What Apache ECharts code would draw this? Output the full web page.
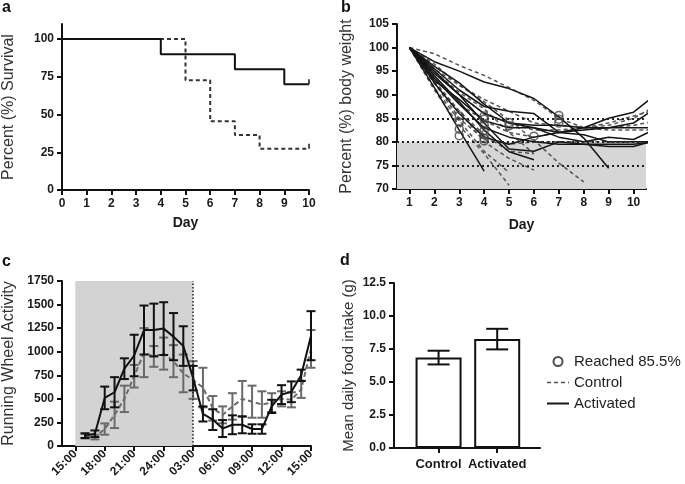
<!DOCTYPE html>
<html><head><meta charset="utf-8">
<script src="https://cdn.jsdelivr.net/npm/echarts@6/dist/echarts.min.js"></script>
<style>html,body{margin:0;padding:0;background:#fff}#c{width:685px;height:484px}</style>
</head><body><div id="c"></div>
<script>
// ---------- Panel a: survival ----------
const survXTicks = [0,1,2,3,4,5,6,7,8,9,10];
const survYTicks = [0,25,50,75,100];
const survActivated = [[0,100],[4,90],[7,80],[9,70],[10,70]];
const survControl = [[0,100],[5,72.7],[6,45.5],[7,36.4],[8,27.3],[10,27.3]];

// ---------- Panel b: body weight ----------
const bwDays = [1,2,3,4,5,6,7,8,9,10,11];
const bwXTicks = [1,2,3,4,5,6,7,8,9,10];
const bwThresholds = [85,80,75];
const bwDangerBand = [70,80];
const bwActivated = [
  [100,91.5,82.5,73.8],
  [100,97,95,92.7,91.3,89.2,85.3,80.8,74.4],
  [100,94,88.5,82.5,77.9,76.2],
  [100,95.5,91,87.5,86.5,86,82,83,85,86.3,90.5],
  [100,94.5,90,86,84,83.5,83.5,83,83,84,87.5],
  [100,93,89,84.5,83,83,81,80,81,80.5,83],
  [100,95,90,84,78.5,78,80,79.5,79.5,79.5,80],
  [100,93.5,88,83,81,80,79.5,79.5,79,79,80.5],
  [100,96,92.5,88,84,83,82,81.5,80,80,80],
  [100,92.5,86,81,79.5,81,82,82.5,83,83,83]
];
const bwControl = [
  [100,98.7,96.2,94.1,91.5,88.8,85,83,83.5,85,88],
  [100,96.5,92,89,86.5,84,83.5,83,82.5,82.5,82.5],
  [100,94,88,84.5,82,81,82,83,84,85.5,87],
  [100,92.5,85,80.5,79.5,80,80,80,80,80,80],
  [100,91,83.5,77.5,70.8],
  [100,92.5,86.5,80,76.5,74],
  [100,95,90.5,87,82,77.5],
  [100,95.5,92,88.5,84.6,80.4,75.5,71.5],
  [100,91.5,84.5,78,73.5],
  [100,95,90,86,84,82.5,82.5,83,83,83.5,84.5],
  [100,93,86.5,81.5,78,77.5]
];
const bwReached = [[3,85.5],[3,84.2],[3,82.7],[3,81.3],[4,85.5],[4,84.8],[4,83.6],[4,82.4],[4,81.5],[4,80.7],[4,80.2],[5,84.1],[5,83.4],[6,81.2],[7,85.6],[7,84.8],[7,84]];

// ---------- Panel c: running wheel ----------
const wheelHours = [16,17,18,19,20,21,22,23,24,25,26,27,28,29,30,31,32,33,34,35,36,37,38,39];
const wheelTickHours = [15,18,21,24,27,30,33,36,39];
const wheelTickLabels = ['15:00','18:00','21:00','24:00','03:00','06:00','09:00','12:00','15:00'];
const wheelDark = [15,27];
const wheelActMean = [110,130,510,570,820,960,1230,1230,1245,1160,1060,720,340,280,185,225,225,180,180,420,545,575,750,1170];
const wheelActErr  = [25,35,120,160,110,220,260,280,280,250,210,130,80,110,90,100,90,50,50,70,100,110,60,260];
const wheelCtlMean = [105,95,180,330,500,740,990,950,980,900,770,700,620,400,330,420,500,470,440,460,500,490,600,1030];
const wheelCtlErr  = [25,25,60,140,140,120,260,110,170,170,200,200,210,130,90,140,190,170,140,100,80,80,90,200];

// ---------- Panel d: food intake ----------
const foodGroups = ['Control','Activated'];
const foodMean = [6.85,8.25];
const foodErr = [0.52,0.78];

const FONT = '"Liberation Sans", Arial, Helvetica, sans-serif';
const AX = '#111';

function baseAxis(extra) {
  return Object.assign({
    axisLine:{show:true,onZero:false,lineStyle:{color:AX,width:2}},
    axisTick:{show:true,length:5,lineStyle:{color:AX,width:2}},
    axisLabel:{color:'#1a1a1a',fontSize:12,fontWeight:'bold',fontFamily:FONT,margin:8},
    splitLine:{show:false},
    nameLocation:'middle',
    nameTextStyle:{color:'#333',fontSize:16,fontFamily:FONT}
  }, extra);
}
function merge(a,b){ for (const k in b) { if (b[k] && typeof b[k]==='object' && !Array.isArray(b[k]) && a[k]) a[k]=Object.assign({},a[k],b[k]); else a[k]=b[k]; } return a; }

function errRenderer(color, width, cap) {
  return function(params, api) {
    const x = api.value(0), lo = api.value(1), hi = api.value(2);
    const a = api.coord([x, hi]), b = api.coord([x, lo]);
    const st = {stroke:color, lineWidth:width};
    return {type:'group', children:[
      {type:'line', shape:{x1:a[0],y1:a[1],x2:b[0],y2:b[1]}, style:st},
      {type:'line', shape:{x1:a[0]-cap,y1:a[1],x2:a[0]+cap,y2:a[1]}, style:st},
      {type:'line', shape:{x1:b[0]-cap,y1:b[1],x2:b[0]+cap,y2:b[1]}, style:st}
    ]};
  };
}

const series = [];
bwControl.forEach((row)=>{
  series.push({type:'line', name:'Control', xAxisIndex:1, yAxisIndex:1, symbol:'none', silent:true, z:3,
    color:'#555', itemStyle:{color:'#555'},
    data: row.map((v,j)=>[bwDays[j],v]), lineStyle:{color:'#555',width:1.5,type:[4,3]}});
});
bwActivated.forEach((row)=>{
  series.push({type:'line', name:'Activated', xAxisIndex:1, yAxisIndex:1, symbol:'none', silent:true, z:4,
    color:'#151515', itemStyle:{color:'#151515'},
    data: row.map((v,j)=>[bwDays[j],v]), lineStyle:{color:'#151515',width:1.5}});
});
series.push({type:'line', name:'bands', xAxisIndex:1, yAxisIndex:1, symbol:'none', data:[], z:1,
  markArea:{silent:true, itemStyle:{color:'#d6d6d6'}, data:[[{yAxis:bwDangerBand[0]},{yAxis:bwDangerBand[1]}]]},
  markLine:{silent:true, symbol:'none', label:{show:false}, lineStyle:{color:'#222',width:2,type:[2,3]},
    data: bwThresholds.map(t=>({yAxis:t}))}
});
series.push({type:'scatter', name:'Reached 85.5%', xAxisIndex:1, yAxisIndex:1, symbol:'circle', symbolSize:8, z:6,
  itemStyle:{color:'rgba(255,255,255,0)', borderColor:'#444', borderWidth:1.6}, data: bwReached});

// Panel a
series.push({type:'line', name:'survC', xAxisIndex:0, yAxisIndex:0, step:'end', symbol:'none', z:3,
  data: survControl, lineStyle:{color:'#333',width:2,type:[4,3]}});
series.push({type:'line', name:'survA', xAxisIndex:0, yAxisIndex:0, step:'end', symbol:'none', z:4,
  data: survActivated, lineStyle:{color:'#111',width:2}});
series.push({type:'scatter', name:'censor', xAxisIndex:0, yAxisIndex:0, symbol:'rect', symbolSize:[2,5], symbolOffset:[0,-2.5], z:5,
  itemStyle:{color:'#222'}, data:[survActivated[survActivated.length-1], survControl[survControl.length-1]]});

// Panel c
series.push({type:'line', name:'wheelBg', xAxisIndex:2, yAxisIndex:2, symbol:'none', data:[], z:1,
  markArea:{silent:true, itemStyle:{color:'#d3d3d3'}, data:[[{xAxis:wheelDark[0], yAxis:0},{xAxis:wheelDark[1], yAxis:1750}]]},
  markLine:{silent:true, symbol:'none', label:{show:false}, lineStyle:{color:'#222',width:1.5,type:[1.5,2]}, data:[{xAxis:wheelDark[1]}]}
});
series.push({type:'custom', name:'ctlErr', xAxisIndex:2, yAxisIndex:2, z:3,
  renderItem: errRenderer('#6a6a6a',2,4.5),
  data: wheelHours.map((h,i)=>[h, wheelCtlMean[i]-wheelCtlErr[i], wheelCtlMean[i]+wheelCtlErr[i]])});
series.push({type:'line', name:'ctlLine', xAxisIndex:2, yAxisIndex:2, symbol:'none', z:3,
  data: wheelHours.map((h,i)=>[h, wheelCtlMean[i]]), lineStyle:{color:'#6a6a6a',width:2,type:[5,3]}});
series.push({type:'custom', name:'actErr', xAxisIndex:2, yAxisIndex:2, z:4,
  renderItem: errRenderer('#111',2,4.5),
  data: wheelHours.map((h,i)=>[h, wheelActMean[i]-wheelActErr[i], wheelActMean[i]+wheelActErr[i]])});
series.push({type:'line', name:'actLine', xAxisIndex:2, yAxisIndex:2, symbol:'none', z:4,
  data: wheelHours.map((h,i)=>[h, wheelActMean[i]]), lineStyle:{color:'#111',width:2}});

// Panel d
series.push({type:'bar', name:'food', xAxisIndex:3, yAxisIndex:3, barWidth:46, z:3,
  itemStyle:{color:'#fff', borderColor:'#111', borderWidth:2},
  data: foodMean.map((m,i)=>[i,m])});
series.push({type:'custom', name:'foodErr', xAxisIndex:3, yAxisIndex:3, z:4,
  renderItem: errRenderer('#111',2,11),
  data: foodMean.map((m,i)=>[i, m-foodErr[i], m+foodErr[i]])});

const titleStyle = {fontSize:16,fontWeight:'bold',color:'#111',fontFamily:FONT};
const option = {
  animation:false,
  backgroundColor:'#fff',
  textStyle:{fontFamily:FONT},
  title:[
    {text:'a', left:2, top:0, padding:0, textStyle:titleStyle},
    {text:'b', left:341, top:0, padding:0, textStyle:titleStyle},
    {text:'c', left:2, top:254, padding:0, textStyle:titleStyle},
    {text:'d', left:340, top:253, padding:0, textStyle:titleStyle}
  ],
  legend:{
    orient:'vertical', left:541, top:349, itemGap:6, itemWidth:22, itemHeight:9,
    selectedMode:false,
    textStyle:{fontSize:15,color:'#222',fontFamily:FONT},
    data:[
      {name:'Reached 85.5%', itemStyle:{color:'rgba(255,255,255,0)', borderColor:'#222', borderWidth:2}},
      {name:'Control', itemStyle:{opacity:0}, lineStyle:{color:'#555', width:1.5, type:[4,3]}},
      {name:'Activated', itemStyle:{opacity:0}, lineStyle:{color:'#151515', width:2}}
    ]
  },
  grid:[
    {left:61, top:24, width:248, height:166},
    {left:397, top:24, width:249, height:165},
    {left:60, top:281, width:251, height:165},
    {left:394, top:283, width:146, height:165}
  ],
  xAxis:[
    merge(baseAxis({type:'value', gridIndex:0, min:0, max:10, interval:1, name:'Day', nameGap:26}),
      {nameTextStyle:{fontSize:14,fontWeight:'bold',color:'#1a1a1a'}}),
    merge(baseAxis({type:'value', gridIndex:1, min:0.5, max:10.5, name:'Day', nameGap:29}),
      {axisLabel:{customValues:bwXTicks}, axisTick:{customValues:bwXTicks}, nameTextStyle:{fontSize:14,fontWeight:'bold',color:'#1a1a1a'}}),
    merge(baseAxis({type:'value', gridIndex:2, min:13.65, max:39}),
      {axisLabel:{customValues:wheelTickHours, rotate:45, margin:6,
        formatter:(v)=>wheelTickLabels[wheelTickHours.indexOf(Math.round(v))]},
       axisTick:{customValues:wheelTickHours}}),
    merge(baseAxis({type:'value', gridIndex:3, min:-0.76, max:1.73}),
      {axisLabel:{customValues:[0,1], formatter:(v)=>foodGroups[Math.round(v)], fontSize:13, margin:10},
       axisTick:{customValues:[0,1]}})
  ],
  yAxis:[
    merge(baseAxis({type:'value', gridIndex:0, min:0, max:110, name:'Percent (%) Survival', nameGap:45}),
      {axisLabel:{customValues:survYTicks}, axisTick:{customValues:survYTicks}}),
    baseAxis({type:'value', gridIndex:1, min:70, max:105, interval:5, name:'Percent (%) body weight', nameGap:42}),
    merge(baseAxis({type:'value', gridIndex:2, min:0, max:1750, interval:250, name:'Running Wheel Activity', nameGap:45}),
      {axisLabel:{formatter:(v)=>String(v)}}),
    merge(baseAxis({type:'value', gridIndex:3, min:0, max:12.5, interval:2.5, name:'Mean daily food intake (g)', nameGap:38}),
      {axisLabel:{formatter:(v)=>v.toFixed(1)}, nameTextStyle:{fontSize:15}})
  ],
  series: series
};
const chart = echarts.init(document.getElementById('c'), null, {renderer:'canvas'});
chart.setOption(option);
</script>
</body></html>
